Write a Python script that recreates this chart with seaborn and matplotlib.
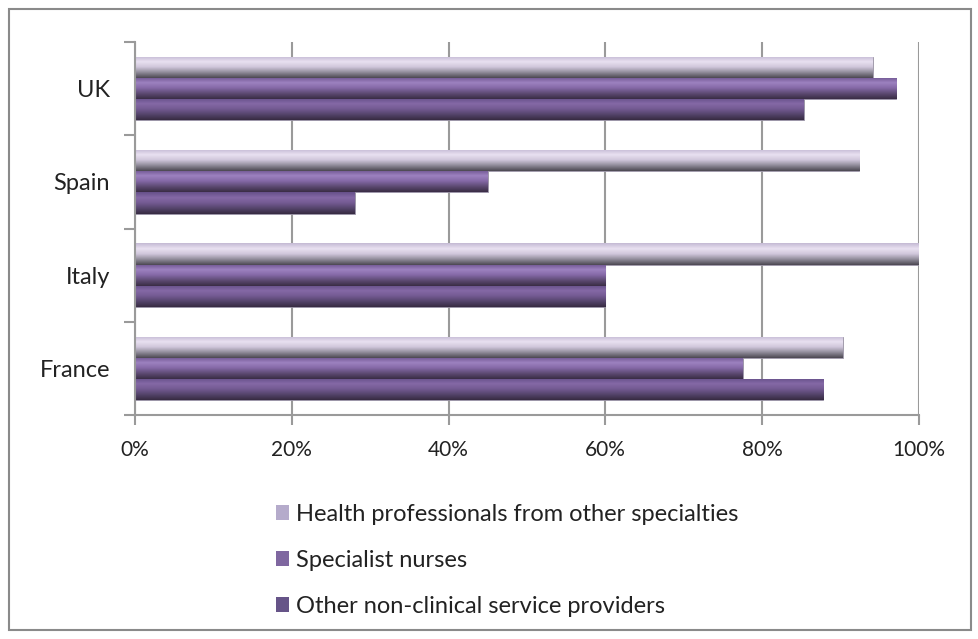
import numpy as np
import matplotlib
matplotlib.use("Agg")
import matplotlib.pyplot as plt
import pandas as pd
import seaborn as sns
from matplotlib.colors import LinearSegmentedColormap
from matplotlib.patches import Rectangle, Patch
from matplotlib.ticker import FuncFormatter

countries = ["UK", "Spain", "Italy", "France"]
series = ["Health professionals from other specialties",
          "Specialist nurses",
          "Other non-clinical service providers"]
health = [94.1, 92.4, 100.0, 90.3]
nurses = [97.1, 45.0, 60.0, 77.5]
other = [85.3, 28.0, 60.0, 87.8]

flat_colors = ["#b5abcb", "#7f67a0", "#665488"]
gradients = [
    ["#c4bad4", "#e9e1f1", "#cfc6da", "#8f8a98", "#4c4852"],
    ["#6f5691", "#9d82c0", "#8468a6", "#5d4a72", "#3a2d45"],
    ["#66508a", "#8569a6", "#735a92", "#54446a", "#372b42"],
]

rows = []
for i, c in enumerate(countries):
    rows.append({"country": c, "group": series[0], "value": health[i]})
    rows.append({"country": c, "group": series[1], "value": nurses[i]})
    rows.append({"country": c, "group": series[2], "value": other[i]})
df = pd.DataFrame(rows)

sns.set_theme(style="white")
plt.rcParams["font.family"] = ["Lato", "DejaVu Sans"]

fig = plt.figure(figsize=(9.79, 6.39), dpi=100)
ax = fig.add_axes([135 / 979, 1 - 415 / 639, (919 - 135) / 979, (415 - 42) / 639])

sns.barplot(data=df, y="country", x="value", hue="group", hue_order=series,
            order=countries, orient="h", palette=flat_colors, width=0.68,
            saturation=1, ax=ax, legend=False, errorbar=None)

ax.set_xlim(0, 100)
ax.set_ylim(3.5, -0.5)
xl, yl = ax.get_xlim(), ax.get_ylim()

# cylinder-like shading on each bar
for k, cont in enumerate(ax.containers):
    cmap = LinearSegmentedColormap.from_list(f"g{k}", gradients[k])
    grad = np.linspace(0, 1, 64).reshape(-1, 1)
    for p in cont.patches:
        x0, y0, w, h = p.get_x(), p.get_y(), p.get_width(), p.get_height()
        p.set_edgecolor("#9a94a4")
        p.set_linewidth(0.6)
        im = ax.imshow(grad, cmap=cmap, aspect="auto", extent=(x0, x0 + w, y0 + h, y0),
                       origin="upper", zorder=p.get_zorder() + 0.1, interpolation="bilinear")
        im.set_clip_path(p)
ax.set_xlim(xl)
ax.set_ylim(yl)

ax.set_xlabel("")
ax.set_ylabel("")
ax.xaxis.set_major_formatter(FuncFormatter(lambda v, _: f"{v:.0f}%"))
ax.set_xticks([0, 20, 40, 60, 80, 100])
ax.grid(axis="x", color="#9a9a9a", linewidth=1.5)
ax.set_axisbelow(True)

for s in ["top", "right"]:
    ax.spines[s].set_visible(False)
for s in ["left", "bottom"]:
    ax.spines[s].set_color("#9a9a9a")
    ax.spines[s].set_linewidth(1.5)

ax.tick_params(axis="x", length=7, width=1.5, color="#9a9a9a", direction="out",
               pad=11, labelsize=15, labelcolor="#222222", bottom=True)
ax.tick_params(axis="y", which="major", length=0, pad=18, labelsize=17, labelcolor="#222222")
ax.set_yticks([-0.5, 0.5, 1.5, 2.5, 3.5], minor=True)
ax.tick_params(axis="y", which="minor", length=8, width=1.5, color="#9a9a9a", direction="out", left=True)

handles = [Patch(facecolor=c, edgecolor="none") for c in flat_colors]
fig.legend(handles, series, loc="upper left", bbox_to_anchor=(276 / 979, 1 - 504 / 639),
           frameon=False, fontsize=17, handlelength=0.53, handleheight=0.58,
           handletextpad=0.3, labelspacing=1.05, labelcolor="#222222",
           borderpad=0, borderaxespad=0)

fig.patches.append(Rectangle((9 / 979, 9 / 639), 962 / 979, 621 / 639, transform=fig.transFigure,
                             fill=False, edgecolor="#8a8a8a", linewidth=1.5))

fig.savefig("out.png", dpi=100)
